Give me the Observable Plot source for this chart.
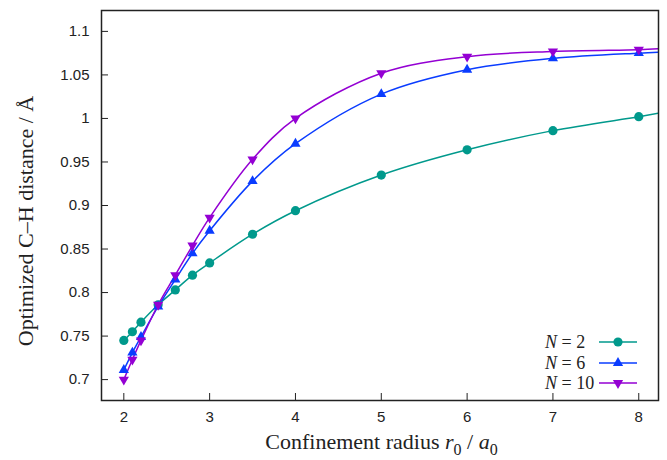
<!DOCTYPE html>
<html>
<head>
<meta charset="utf-8">
<script src="https://cdn.jsdelivr.net/npm/d3@7"></script>
<script src="https://cdn.jsdelivr.net/npm/@observablehq/plot@0.6"></script>
<style>
  html, body { margin: 0; padding: 0; background: #fff; }
  #chart { width: 667px; height: 460px; }
</style>
</head>
<body>
<div id="chart"></div>
<script>
// ---- data ----
const radii = [2, 2.1, 2.2, 2.4, 2.6, 2.8, 3, 3.5, 4, 5, 6, 7, 8];
const distN2  = [0.745, 0.755, 0.766, 0.786, 0.803, 0.820, 0.834, 0.867, 0.894, 0.935, 0.964, 0.986, 1.002];
const distN6  = [0.711, 0.731, 0.749, 0.784, 0.815, 0.845, 0.871, 0.928, 0.971, 1.028, 1.056, 1.069, 1.075];
const distN10 = [0.700, 0.723, 0.745, 0.786, 0.820, 0.854, 0.886, 0.953, 1.000, 1.052, 1.071, 1.077, 1.079];
// curve continues to the right frame edge (values read at r0 = 8.23)
const edgeRadius = 8.23;
const edgeValues = [1.006, 1.076, 1.080];
const seriesNames = ["2", "6", "10"];
const xTicks = [2, 3, 4, 5, 6, 7, 8];
const yTicks = [0.7, 0.75, 0.8, 0.85, 0.9, 0.95, 1, 1.05, 1.1];

// ---- style ----
const colors = ["#00998c", "#0a3cff", "#9400d3"];
const W = 667, H = 460, mL = 101, mR = 9, mT = 10, mB = 60;
const fw = W - mL - mR, fh = H - mT - mB;

const seriesVals = [distN2, distN6, distN10];
const points = [];
const curves = [];
seriesVals.forEach((vals, s) => {
  radii.forEach((r, i) => {
    points.push({r, d: vals[i], s: seriesNames[s]});
    curves.push({r, d: vals[i], s: seriesNames[s]});
  });
  curves.push({r: edgeRadius, d: edgeValues[s], s: seriesNames[s]});
});

const colorScale = {domain: seriesNames, range: colors};

const plot = Plot.plot({
  width: W, height: H,
  marginLeft: mL, marginRight: mR, marginTop: mT, marginBottom: mB,
  style: {fontFamily: "'Liberation Sans', Arial, sans-serif", fontSize: "15px", color: "#222", background: "#fff"},
  x: {domain: [1.74, 8.23]},
  y: {domain: [0.676, 1.124]},
  color: colorScale,
  marks: [
    Plot.axisX(xTicks, {tickSize: 0, tickPadding: 11, label: null, fontSize: 15}),
    Plot.axisY(yTicks, {tickSize: 0, tickPadding: 12, label: null, fontSize: 15, tickFormat: d => String(d)}),
    Plot.tickX(xTicks, {x: d => d, stroke: "#222", strokeWidth: 1, insetTop: fh - 7}),
    Plot.tickY(yTicks, {y: d => d, stroke: "#222", strokeWidth: 1, insetRight: fw - 7}),
    Plot.line(curves, {x: "r", y: "d", z: "s", stroke: "s", strokeWidth: 1.5, curve: "catmull-rom", clip: true}),
    Plot.dot(points.filter(p => p.s === "2"), {x: "r", y: "d", fill: "s", r: 4.6, symbol: "circle"}),
    Plot.dot(points.filter(p => p.s === "6"), {x: "r", y: "d", fill: "s", r: 3.8, symbol: "triangle"}),
    Plot.dot(points.filter(p => p.s === "10"), {x: "r", y: "d", fill: "s", r: 3.8, symbol: "triangle", rotate: 180}),
    Plot.frame({stroke: "#222", strokeWidth: 1.5})
  ]
});

document.getElementById("chart").appendChild(plot);

// ---- axis titles and legend ----
const svg = d3.select(plot);
const serif = "'Liberation Serif', 'Times New Roman', serif";

const xt = svg.append("text")
  .attr("x", mL + fw / 2 + 2).attr("y", 449)
  .attr("text-anchor", "middle")
  .attr("font-family", serif).attr("font-size", 22).attr("fill", "#222");
xt.append("tspan").text("Confinement radius ");
xt.append("tspan").attr("font-style", "italic").text("r");
xt.append("tspan").attr("font-size", 16).attr("dy", 6).text("0");
xt.append("tspan").attr("dy", -6).text(" / ");
xt.append("tspan").attr("font-style", "italic").text("a");
xt.append("tspan").attr("font-size", 16).attr("dy", 6).text("0");

svg.append("text")
  .attr("transform", `translate(33, 221) rotate(-90)`)
  .attr("text-anchor", "middle")
  .attr("font-family", serif).attr("font-size", 22).attr("fill", "#222")
  .text("Optimized C\u2013H distance / \u00C5");

const legendRows = [342, 363, 383];
const symbolPaths = [
  d3.symbol(d3.symbolCircle, 4.6 * 4.6 * Math.PI)(),
  d3.symbol(d3.symbolTriangle, 3.8 * 3.8 * Math.PI)(),
  d3.symbol(d3.symbolTriangle, 3.8 * 3.8 * Math.PI)()
];
seriesNames.forEach((n, i) => {
  const g = svg.append("g").attr("transform", `translate(0, ${legendRows[i]})`);
  const t = g.append("text").attr("x", 545).attr("y", 6)
    .attr("text-anchor", "start").attr("font-family", serif).attr("font-size", 18).attr("fill", "#222");
  t.append("tspan").attr("font-style", "italic").text("N");
  t.append("tspan").text(" = " + n);
  g.append("line").attr("x1", 599).attr("x2", 637).attr("y1", 0).attr("y2", 0)
    .attr("stroke", colors[i]).attr("stroke-width", 1.5);
  g.append("path").attr("d", symbolPaths[i]).attr("fill", colors[i])
    .attr("transform", `translate(618, 0)` + (i === 2 ? " rotate(180)" : ""));
});
</script>
</body>
</html>
